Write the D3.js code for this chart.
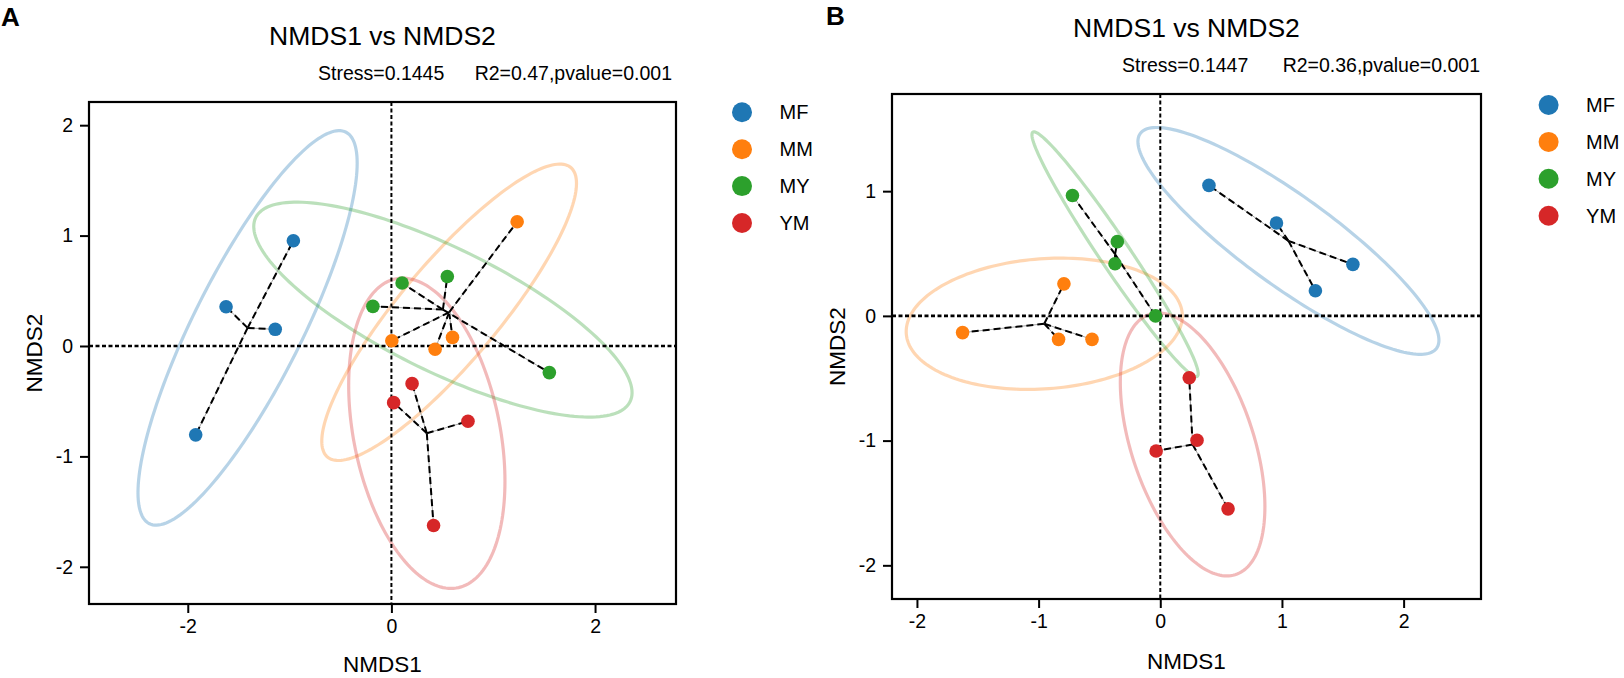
<!DOCTYPE html>
<html>
<head>
<meta charset="utf-8">
<script src="https://cdn.jsdelivr.net/npm/d3@7/dist/d3.min.js"></script>
<style>
  html, body { margin: 0; padding: 0; background: #fff; }
  svg { display: block; font-family: "Liberation Sans", Arial, Helvetica, sans-serif; }
</style>
</head>
<body>
<svg id="chart" width="1624" height="678"></svg>
<script>
// ---------- DATA ----------
const groups = ["MF", "MM", "MY", "YM"];
const groupColors = ["#1f77b4", "#ff7f0e", "#2ca02c", "#d62728"];

// Panel A sample scores [NMDS1, NMDS2]
const A_MF = [[-0.963, 0.953], [-1.624, 0.356], [-1.141, 0.151], [-1.922, -0.805]];
const A_MM = [[1.235, 1.125], [0.004, 0.048], [0.600, 0.078], [0.429, -0.030]];
const A_MY = [[0.105, 0.570], [0.549, 0.630], [-0.182, 0.359], [1.551, -0.241]];
const A_YM = [[0.203, -0.341], [0.022, -0.513], [0.752, -0.682], [0.414, -1.626]];

// Panel B sample scores [NMDS1, NMDS2]
const B_MF = [[0.400, 1.046], [0.955, 0.745], [1.583, 0.413], [1.275, 0.201]];
const B_MM = [[-0.792, 0.257], [-1.625, -0.134], [-0.836, -0.188], [-0.561, -0.188]];
const B_MY = [[-0.722, 0.965], [-0.353, 0.595], [-0.372, 0.418], [-0.039, 0.000]];
const B_YM = [[0.238, -0.496], [0.302, -0.997], [-0.034, -1.083], [0.557, -1.547]];

// Axis domains and ticks
const A_xDomain = [-2.97, 2.795];
const A_yDomain = [-2.337, 2.21];
const A_xTicks = [-2, 0, 2];
const A_yTicks = [-2, -1, 0, 1, 2];
const B_xDomain = [-2.205, 2.636];
const B_yDomain = [-2.27, 1.779];
const B_xTicks = [-2, -1, 0, 1, 2];
const B_yTicks = [-2, -1, 0, 1];

// Texts
const A_title = "NMDS1 vs NMDS2";
const A_stress = "Stress=0.1445";
const A_stat = "R2=0.47,pvalue=0.001";
const B_title = "NMDS1 vs NMDS2";
const B_stress = "Stress=0.1447";
const B_stat = "R2=0.36,pvalue=0.001";

const ELLIPSE_CONF = 0.95; // confidence level of the data ellipses

// ---------- LAYOUT ----------
const panels = [
  { letter: "A", letterX: 1, letterY: 26, left: 89, right: 676, top: 102, bottom: 604,
    xDomain: A_xDomain, yDomain: A_yDomain, xTicks: A_xTicks, yTicks: A_yTicks,
    series: [A_MF, A_MM, A_MY, A_YM], title: A_title, stress: A_stress, stat: A_stat,
    titleY: 45, statY: 80, stressX: 318, statRight: 672,
    legendX: 742, legendY: 112.3, xLabelY: 672 },
  { letter: "B", letterX: 826, letterY: 25, left: 892, right: 1481, top: 94, bottom: 599,
    xDomain: B_xDomain, yDomain: B_yDomain, xTicks: B_xTicks, yTicks: B_yTicks,
    series: [B_MF, B_MM, B_MY, B_YM], title: B_title, stress: B_stress, stat: B_stat,
    titleY: 37, statY: 71.5, stressX: 1122, statRight: 1480,
    legendX: 1548.6, legendY: 105, xLabelY: 669 }
];

const svg = d3.select("#chart");
const k = Math.sqrt(-2 * Math.log(1 - ELLIPSE_CONF));

function ellipsePoints(pts) {
  const n = pts.length;
  const mx = d3.mean(pts, d => d[0]);
  const my = d3.mean(pts, d => d[1]);
  let sxx = 0, syy = 0, sxy = 0;
  pts.forEach(p => { const dx = p[0] - mx, dy = p[1] - my; sxx += dx * dx; syy += dy * dy; sxy += dx * dy; });
  sxx /= (n - 1); syy /= (n - 1); sxy /= (n - 1);
  // Cholesky
  const l11 = Math.sqrt(sxx);
  const l21 = sxy / l11;
  const l22 = Math.sqrt(Math.max(syy - l21 * l21, 1e-12));
  const out = [];
  const seg = 180;
  for (let i = 0; i < seg; i++) {
    const t = (i / seg) * 2 * Math.PI;
    const c = Math.cos(t), s = Math.sin(t);
    out.push([mx + k * (l11 * c), my + k * (l21 * c + l22 * s)]);
  }
  return out;
}

panels.forEach((P, pi) => {
  const x = d3.scaleLinear().domain(P.xDomain).range([P.left, P.right]);
  const y = d3.scaleLinear().domain(P.yDomain).range([P.bottom, P.top]);
  const g = svg.append("g");

  // clip
  const clipId = "clip" + pi;
  svg.append("clipPath").attr("id", clipId).append("rect")
    .attr("x", P.left).attr("y", P.top).attr("width", P.right - P.left).attr("height", P.bottom - P.top);
  const plot = g.append("g").attr("clip-path", `url(#${clipId})`);

  // Ellipses
  const line = d3.line().x(d => x(d[0])).y(d => y(d[1])).curve(d3.curveLinearClosed);
  P.series.forEach((pts, gi) => {
    plot.append("path").attr("d", line(ellipsePoints(pts)))
      .attr("fill", "none").attr("stroke", groupColors[gi])
      .attr("stroke-opacity", 0.32).attr("stroke-width", 3.2);
  });

  // Zero reference lines
  plot.append("line").attr("x1", x(0)).attr("x2", x(0)).attr("y1", P.top).attr("y2", P.bottom)
    .attr("stroke", "#000").attr("stroke-width", 2).attr("stroke-dasharray", "4,2.5");
  plot.append("line").attr("x1", P.left).attr("x2", P.right).attr("y1", y(0)).attr("y2", y(0))
    .attr("stroke", "#000").attr("stroke-width", 2.6).attr("stroke-dasharray", "4,2.5");

  // Spider lines
  P.series.forEach((pts, gi) => {
    const cx = d3.mean(pts, d => d[0]);
    const cy = d3.mean(pts, d => d[1]);
    pts.forEach(p => {
      plot.append("line").attr("x1", x(cx)).attr("y1", y(cy)).attr("x2", x(p[0])).attr("y2", y(p[1]))
        .attr("stroke", "#9a9a9a").attr("stroke-width", 0.9);
      plot.append("line").attr("x1", x(cx)).attr("y1", y(cy)).attr("x2", x(p[0])).attr("y2", y(p[1]))
        .attr("stroke", "#000").attr("stroke-width", 2).attr("stroke-dasharray", "7,4");
    });
  });

  // Points
  P.series.forEach((pts, gi) => {
    plot.selectAll(null).data(pts).enter().append("circle")
      .attr("cx", d => x(d[0])).attr("cy", d => y(d[1])).attr("r", 6.8)
      .attr("fill", groupColors[gi]);
  });

  // Axes
  const xAxis = d3.axisBottom(x).tickValues(P.xTicks).tickSize(9).tickPadding(6).tickFormat(d3.format("d"));
  const yAxis = d3.axisLeft(y).tickValues(P.yTicks).tickSize(9).tickPadding(7).tickFormat(d3.format("d"));
  const gx = g.append("g").attr("transform", `translate(0,${P.bottom})`).call(xAxis);
  const gy = g.append("g").attr("transform", `translate(${P.left},0)`).call(yAxis);
  [gx, gy].forEach(ax => {
    ax.select(".domain").remove();
    ax.selectAll(".tick line").attr("stroke", "#000").attr("stroke-width", 2);
    ax.selectAll(".tick text").attr("fill", "#000").style("font-size", "19.5px")
      .style("font-family", '"Liberation Sans", Arial, sans-serif')
      .text(d => d < 0 ? "-" + Math.abs(d) : String(d));
  });

  // Frame
  g.append("rect").attr("x", P.left).attr("y", P.top).attr("width", P.right - P.left).attr("height", P.bottom - P.top)
    .attr("fill", "none").attr("stroke", "#000").attr("stroke-width", 2.2);

  // Axis labels
  g.append("text").attr("x", (P.left + P.right) / 2).attr("y", P.xLabelY).attr("text-anchor", "middle")
    .style("font-size", "22.5px").text("NMDS1");
  g.append("text").attr("transform", `translate(${P.left - 47},${(P.top + P.bottom) / 2}) rotate(-90)`)
    .attr("text-anchor", "middle").style("font-size", "22.5px").text("NMDS2");

  // Title and stats
  g.append("text").attr("x", (P.left + P.right) / 2).attr("y", P.titleY).attr("text-anchor", "middle")
    .style("font-size", "26.5px").text(P.title);
  g.append("text").attr("x", P.stressX).attr("y", P.statY).attr("text-anchor", "start")
    .style("font-size", "19.5px").text(P.stress);
  g.append("text").attr("x", P.statRight).attr("y", P.statY).attr("text-anchor", "end")
    .style("font-size", "19.5px").text(P.stat);

  // Panel letter
  g.append("text").attr("x", P.letterX).attr("y", P.letterY).style("font-size", "26px")
    .style("font-weight", "bold").text(P.letter);

  // Legend
  groups.forEach((name, gi) => {
    const ly = P.legendY + gi * 36.9;
    g.append("circle").attr("cx", P.legendX).attr("cy", ly).attr("r", 10).attr("fill", groupColors[gi]);
    g.append("text").attr("x", P.legendX + 37.5).attr("y", ly + 7).style("font-size", "20px").text(name);
  });
});
</script>
</body>
</html>
